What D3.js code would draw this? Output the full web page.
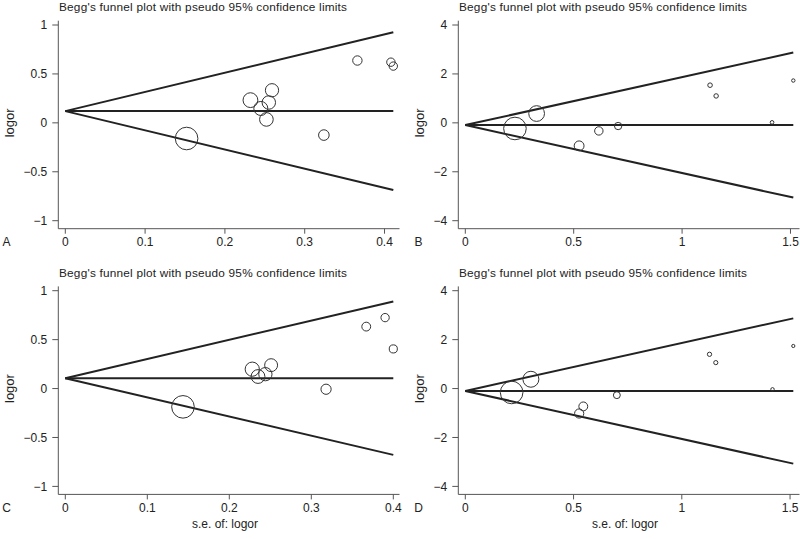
<!DOCTYPE html>
<html><head><meta charset="utf-8">
<script src="https://cdn.jsdelivr.net/npm/d3@7"></script>
<style>
html,body{margin:0;padding:0;background:#fff;}
svg{display:block;font-family:"Liberation Sans",Arial,Helvetica,sans-serif;}
</style></head>
<body>
<svg id="chart" width="800" height="539"></svg>
<script>
// ---- data ----
const panelLetters = ["A", "B", "C", "D"];
const titleText = "Begg's funnel plot with pseudo 95% confidence limits";
const yLabelText = "logor";
const xLabelText = "s.e. of: logor";

const seA = [0.152, 0.232, 0.245, 0.255, 0.259, 0.252, 0.324, 0.366, 0.408, 0.411];
const logorA = [-0.16, 0.232, 0.147, 0.208, 0.333, 0.035, -0.125, 0.637, 0.62, 0.58];
const thetaA = 0.12;

const seB = [0.229, 0.329, 0.525, 0.616, 0.705, 1.129, 1.157, 1.415, 1.513];
const logorB = [-0.23, 0.38, -0.94, -0.33, -0.13, 1.54, 1.10, 0.02, 1.73];
const thetaB = -0.09;

const seC = [0.1435, 0.228, 0.235, 0.244, 0.251, 0.318, 0.367, 0.39, 0.40];
const logorC = [-0.187, 0.198, 0.123, 0.147, 0.239, -0.007, 0.633, 0.725, 0.405];
const thetaC = 0.106;

const seD = [0.214, 0.303, 0.526, 0.545, 0.70, 1.128, 1.157, 1.419, 1.515];
const logorD = [-0.16, 0.38, -1.02, -0.73, -0.27, 1.40, 1.06, -0.03, 1.74];
const thetaD = -0.1;

const yTicksSmall = [-1, -0.5, 0, 0.5, 1];
const yTicksLarge = [-4, -2, 0, 2, 4];
const xTicksSmall = [0, 0.1, 0.2, 0.3, 0.4];
const xTicksLarge = [0, 0.5, 1, 1.5];

const panels = [
  {letter: panelLetters[0], se: seA, logor: logorA, theta: thetaA, yTicks: yTicksSmall, xTicks: xTicksSmall, col: 0, row: 0},
  {letter: panelLetters[1], se: seB, logor: logorB, theta: thetaB, yTicks: yTicksLarge, xTicks: xTicksLarge, col: 1, row: 0},
  {letter: panelLetters[2], se: seC, logor: logorC, theta: thetaC, yTicks: yTicksSmall, xTicks: xTicksSmall, col: 0, row: 1},
  {letter: panelLetters[3], se: seD, logor: logorD, theta: thetaD, yTicks: yTicksLarge, xTicks: xTicksLarge, col: 1, row: 1}
];

// ---- layout ----
const panelW = 400, panelH = 265.7;
const axisX = 58.3, plotX0 = 65.3, plotX1 = 393.3, axisXEnd = 399.5;
const plotYTop = 25, plotYBot = 220.7, xAxisY = 228.7, yAxisTop = 20.7;
const rMax = 11.3;
const textCol = "#222", axisCol = "#555", lineCol = "#222";

const svg = d3.select("#chart");
const fmt = d => d3.format("")(d).replace("-", "\u2212");

panels.forEach(p => {
  const g = svg.append("g").attr("transform", `translate(${p.col * panelW},${p.row * panelH})`);
  const maxSE = d3.max(p.se);
  const minSE = d3.min(p.se);
  const x = d3.scaleLinear().domain([0, maxSE]).range([plotX0, plotX1]);
  const y = d3.scaleLinear().domain([d3.min(p.yTicks), d3.max(p.yTicks)]).range([plotYBot, plotYTop]);
  const leftPad = p.col === 1 ? 10.5 : 0;

  // title
  g.append("text").attr("x", 59).attr("y", 10.8).attr("font-size", 11.8)
    .attr("textLength", 288).attr("lengthAdjust", "spacing")
    .attr("fill", textCol).text(titleText);

  // y axis
  g.append("line").attr("x1", axisX).attr("x2", axisX).attr("y1", yAxisTop).attr("y2", xAxisY)
    .attr("stroke", axisCol).attr("stroke-width", 1);
  p.yTicks.forEach(t => {
    g.append("line").attr("x1", axisX - 6).attr("x2", axisX).attr("y1", y(t)).attr("y2", y(t))
      .attr("stroke", axisCol).attr("stroke-width", 1);
    g.append("text").attr("x", axisX - 11).attr("y", y(t)).attr("dy", "0.35em")
      .attr("text-anchor", "end").attr("font-size", 12).attr("fill", textCol).text(fmt(t));
  });
  // x axis
  g.append("line").attr("x1", axisX).attr("x2", axisXEnd).attr("y1", xAxisY).attr("y2", xAxisY)
    .attr("stroke", axisCol).attr("stroke-width", 1);
  p.xTicks.forEach(t => {
    g.append("line").attr("x1", x(t)).attr("x2", x(t)).attr("y1", xAxisY).attr("y2", xAxisY + 5)
      .attr("stroke", axisCol).attr("stroke-width", 1);
    g.append("text").attr("x", x(t)).attr("y", 246).attr("text-anchor", "middle")
      .attr("font-size", 12).attr("fill", textCol).text(fmt(t));
  });

  // y label
  g.append("text").attr("transform", `translate(${13.5 + leftPad},${(plotYTop + plotYBot) / 2}) rotate(-90)`)
    .attr("text-anchor", "middle").attr("font-size", 13).attr("fill", textCol).text(yLabelText);
  // panel letter
  g.append("text").attr("x", 6.5 + leftPad + (p.col === 1 ? 1.5 : 0)).attr("y", 246).attr("text-anchor", "middle")
    .attr("font-size", 12).attr("fill", textCol).text(p.letter);
  // x label on bottom row
  if (p.row === 1) {
    g.append("text").attr("x", 225).attr("y", 262).attr("text-anchor", "middle")
      .attr("font-size", 12).attr("fill", textCol).text(xLabelText);
  }

  // funnel lines
  const funnel = [
    [[0, p.theta], [maxSE, p.theta + 1.96 * maxSE]],
    [[0, p.theta], [maxSE, p.theta]],
    [[0, p.theta], [maxSE, p.theta - 1.96 * maxSE]]
  ];
  const lineGen = d3.line().x(d => x(d[0])).y(d => y(d[1]));
  g.selectAll("path.funnel").data(funnel).enter().append("path")
    .attr("class", "funnel").attr("d", lineGen)
    .attr("fill", "none").attr("stroke", lineCol).attr("stroke-width", 2);

  // points
  g.selectAll("circle.pt").data(p.se.map((s, i) => ({s, v: p.logor[i]}))).enter().append("circle")
    .attr("class", "pt")
    .attr("cx", d => x(d.s)).attr("cy", d => y(d.v))
    .attr("r", d => rMax * minSE / d.s)
    .attr("fill", "none").attr("stroke", "#333").attr("stroke-width", 1);
});
</script>
</body></html>
